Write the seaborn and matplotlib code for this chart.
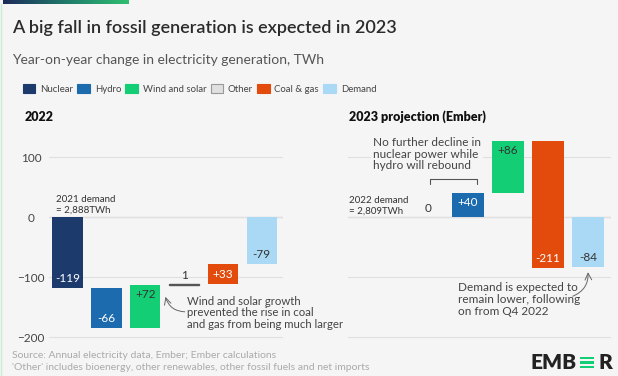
import numpy as np
import pandas as pd
import matplotlib
matplotlib.use("Agg")
import matplotlib.pyplot as plt
from matplotlib.patches import Patch, Rectangle
from matplotlib.colors import LinearSegmentedColormap
import seaborn as sns

# --- data (TWh, year-on-year change) ---
left_sources = ["Nuclear", "Hydro", "Wind and solar", "Other", "Coal & gas", "Demand"]
left_change = [-119, -66, 72, 1, 33, -79]
right_sources = ["Nuclear", "Hydro", "Wind and solar", "Coal & gas", "Demand"]
right_change = [0, 40, 86, -211, -84]

legend_sources = ["Nuclear", "Hydro", "Wind and solar", "Other", "Coal & gas", "Demand"]
palette = {
    "Nuclear": "#1c3a6c",
    "Hydro": "#1c6bae",
    "Wind and solar": "#13ce74",
    "Other": "#e0e0e0",
    "Coal & gas": "#e24b0c",
    "Demand": "#a9d9f5",
}
light_text = {"Nuclear", "Hydro", "Coal & gas"}
yticks = [-200, -100, 0, 100]

BG = "#f5f5f5"
DARK = "#333333"
W, H = 618, 376

sns.set_theme(style="white")
plt.rcParams["font.family"] = ["Lato", "DejaVu Sans"]
plt.rcParams["text.color"] = DARK


def px(x, y):
    """pixel (from top-left) -> figure fraction"""
    return x / W, 1 - y / H


def waterfall(sources, values):
    starts, running = [], 0
    for s, v in zip(sources, values):
        if s == "Demand":
            starts.append(0)
        else:
            starts.append(running)
            running += v
    return starts


def draw_panel(ax, sources, values):
    starts = waterfall(sources, values)
    df = pd.DataFrame({"pos": np.arange(len(sources)), "change": values, "start": starts})
    sns.barplot(
        data=df, x="pos", y="change", native_scale=True, errorbar=None, width=0.78,
        color="#888888", saturation=1, bottom=df["start"].values, ax=ax,
        facecolor=[palette[s] for s in sources],
        edgecolor=["#555555" if s == "Other" else palette[s] for s in sources],
        linewidth=[1.0 if s == "Other" else 0 for s in sources],
    )
    for pos, s, v, st in zip(df["pos"], sources, values, starts):
        end = st + v
        if abs(v) < 10:
            y, col = max(st, end) + 14, DARK
            lab = f"{v}"
        else:
            y = end - 16 * np.sign(v)
            col = "white" if s in light_text else DARK
            lab = f"{v:+d}"
        ax.text(pos, y, lab, ha="center", va="center", fontsize=8.5, color=col)
    ax.set_ylim(-205, 135)
    ax.set_yticks(yticks)
    ax.yaxis.grid(True, color="#e0e0e0", lw=0.8)
    ax.axhline(0, color="#c8c8c8", lw=0.9, zorder=0.5)
    ax.set_axisbelow(True)
    ax.set_xticks([])
    ax.set_xlabel("")
    ax.set_ylabel("")
    ax.tick_params(axis="y", length=0, labelsize=8.5, labelcolor="#444444", pad=13)
    for lbl in ax.get_yticklabels():
        lbl.set_ha("center")
    sns.despine(ax=ax, left=True, bottom=True)
    ax.patch.set_alpha(0)


fig = plt.figure(figsize=(W / 100, H / 100), dpi=100, facecolor=BG)

bottom = 1 - 340 / H
height = 204 / H
ax_l = fig.add_axes([49 / W, bottom, 234 / W, height])
ax_r = fig.add_axes([348 / W, bottom, 263 / W, height])

draw_panel(ax_l, left_sources, left_change)
ax_l.set_xlim(-0.48, 5.55)
draw_panel(ax_r, right_sources, right_change)
ax_r.set_xlim(-2.0, 4.575)
ax_r.set_yticklabels([])

# --- annotations ---
ax_l.text(-0.30, 20, "2021 demand\n= 2,888TWh", fontsize=7, ha="left", va="center",
          color=DARK, linespacing=1.2)
ax_r.text(-1.98, 19, "2022 demand\n= 2,809TWh", fontsize=7, ha="left", va="center",
          color=DARK, linespacing=1.2)
ax_l.text(3.08, -160, "Wind and solar growth\nprevented the rise in coal\nand gas from being much larger",
          fontsize=8.2, ha="left", va="center", color="#444444", linespacing=1.1, clip_on=False)
ax_l.annotate("", xy=(2.52, -133), xytext=(3.02, -158),
              arrowprops=dict(arrowstyle="->", color="#666666", lw=0.7,
                              connectionstyle="arc3,rad=-0.35", shrinkA=0, shrinkB=0),
              annotation_clip=False)
ax_r.text(-1.375, 105, "No further decline in\nnuclear power while\nhydro will rebound",
          fontsize=8.5, ha="left", va="center", color="#444444", linespacing=1.1,
          bbox=dict(boxstyle="square,pad=0.15", fc=BG, ec="none"))
ax_r.plot([0.05, 0.05, 1.22, 1.22], [55, 63, 63, 55], color="#555555", lw=0.8)
ax_r.text(0.75, -138, "Demand is expected to\nremain lower, following\non from Q4 2022",
          fontsize=8.5, ha="left", va="center", color="#444444", linespacing=1.1)
ax_r.annotate("", xy=(4.0, -92), xytext=(3.62, -132),
              arrowprops=dict(arrowstyle="->", color="#666666", lw=0.7,
                              connectionstyle="arc3,rad=0.35", shrinkA=0, shrinkB=0),
              annotation_clip=False)

# --- titles ---
fig.text(*px(12, 28), "A big fall in fossil generation is expected in 2023", fontsize=13,
         ha="left", va="center", color="#2b2b2b", weight="semibold")
fig.text(*px(12, 60), "Year-on-year change in electricity generation, TWh", fontsize=10,
         ha="left", va="center", color="#555555")
fig.text(*px(25, 117), "2022", fontsize=9, weight="heavy", ha="left", va="center", color="#111111")
fig.text(*px(349, 117), "2023 projection (Ember)", fontsize=9, weight="heavy", ha="left",
         va="center", color="#111111")

handles = [Patch(facecolor=palette[s], edgecolor="#999999" if s == "Other" else palette[s],
                 lw=0.8) for s in legend_sources]
fig.legend(handles, legend_sources, loc="center left", bbox_to_anchor=px(19, 89), ncol=6,
           frameon=False, fontsize=6.9, handlelength=1.3, handleheight=1.1,
           handletextpad=0.5, columnspacing=0.45, borderaxespad=0, labelcolor="#444444")

# --- footer ---
fig.text(*px(12, 355), "Source: Annual electricity data, Ember; Ember calculations",
         fontsize=7.5, color="#aaaaaa", ha="left", va="center")
fig.text(*px(12, 367), "'Other' includes bioenergy, other renewables, other fossil fuels and net imports",
         fontsize=7.5, color="#aaaaaa", ha="left", va="center")
fig.text(*px(530, 362.5), "EMB", fontsize=15, weight="heavy", color="#222222", ha="left", va="center")
fig.text(*px(612, 362.5), "R", fontsize=15, weight="heavy", color="#222222", ha="right", va="center")
for yy in (357, 361.5, 366):
    x0, y0 = px(580, yy + 2)
    fig.patches.append(Rectangle((x0, y0), 14 / W, 2.3 / H, transform=fig.transFigure,
                                 facecolor="#13ce74", edgecolor="none"))

# --- top gradient strip and left border ---
grad_ax = fig.add_axes([3 / W, 1 - 4 / H, 126 / W, 4 / H])
grad = np.linspace(0, 1, 256).reshape(1, -1)
cmap = LinearSegmentedColormap.from_list("ember", ["#1d2b5a", "#1f7a6a", "#2fbf71"])
grad_ax.imshow(grad, aspect="auto", cmap=cmap)
grad_ax.axis("off")
fig.add_artist(plt.Line2D([1.5 / W, 1.5 / W], [0, 1 - 4 / H], transform=fig.transFigure,
                          color="#c9ecd6", lw=1))

fig.savefig("out.png", dpi=100, facecolor=BG)
